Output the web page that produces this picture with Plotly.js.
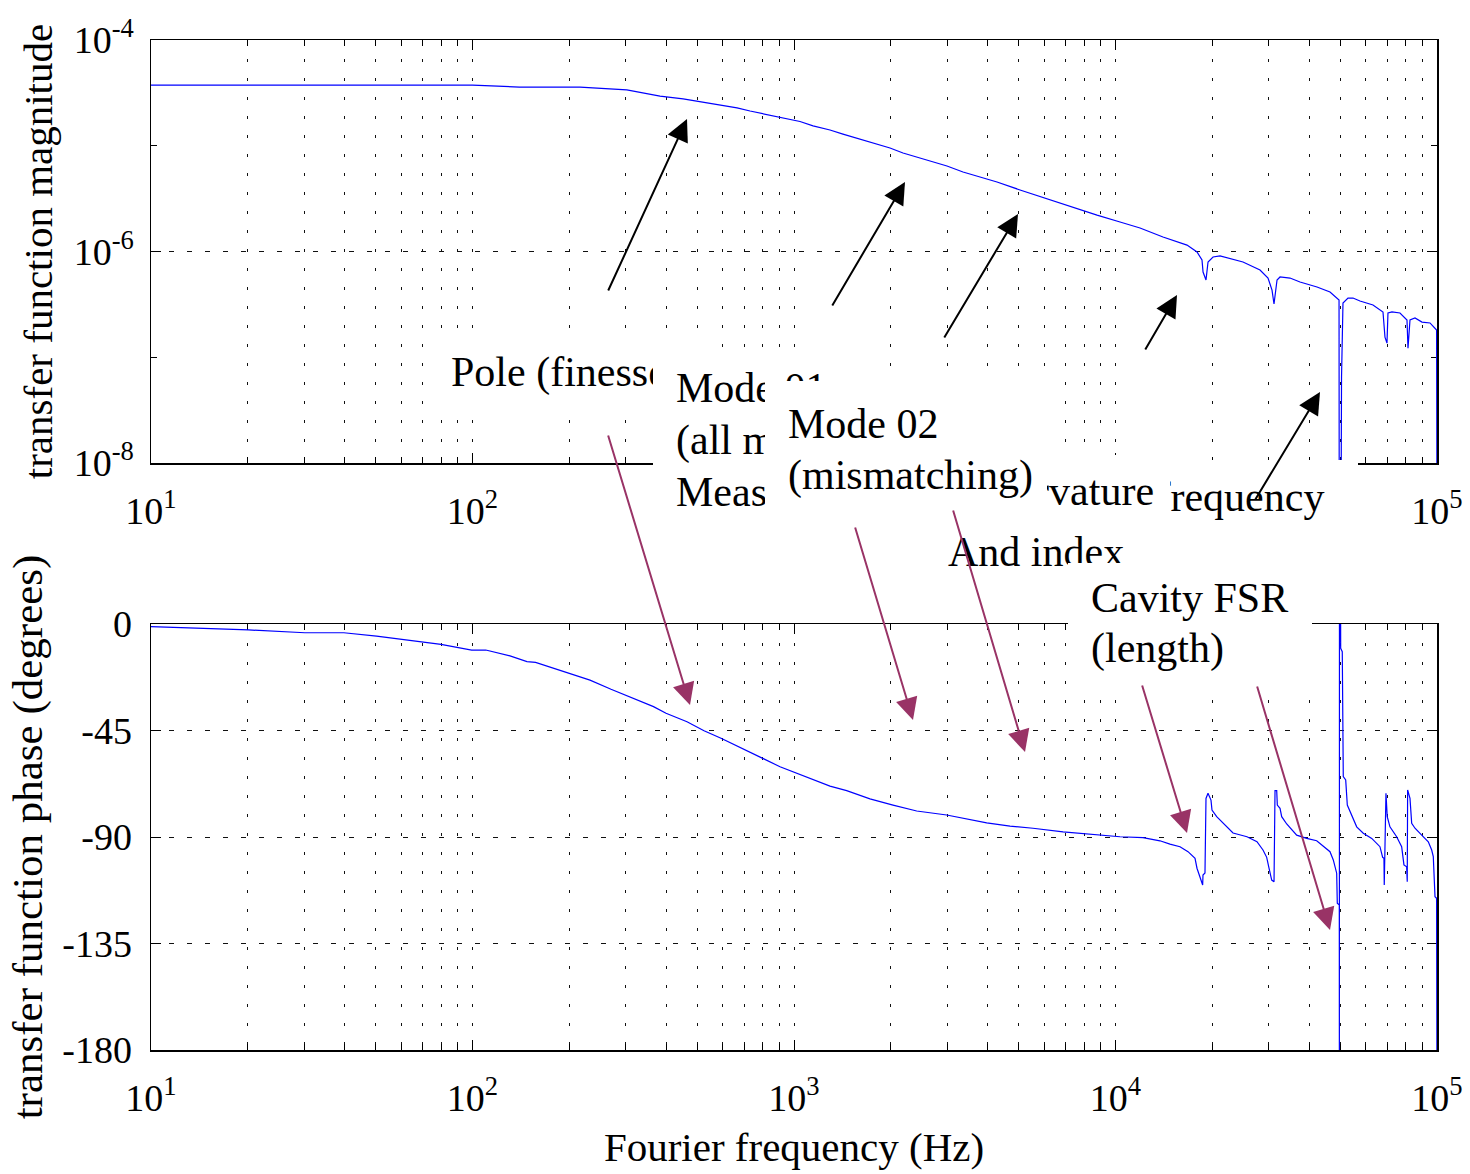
<!DOCTYPE html>
<html>
<head>
<meta charset="utf-8">
<script src="https://cdn.plot.ly/plotly-3.0.1.min.js"></script>
<style>html,body{margin:0;padding:0;background:#fff;}#chart{width:1470px;height:1174px;}</style>
</head>
<body>
<div id="chart"></div>
<script>
// ---------- data ----------
const magFreq = [10, 100, 140, 216, 302, 383, 452, 521, 589, 665, 730, 801, 885, 972, 1044, 1146, 1294, 1420, 1639, 1761, 1989, 2183, 2593, 2991, 3355, 3789, 4280, 5047, 6123, 7066, 8760, 10330, 11920, 14050, 16690, 17930, 18580, 18720, 19120, 19400, 20110, 21140, 22220, 24920, 28150, 29810, 30680, 31120, 31800, 32490, 34900, 37490, 42340, 46470, 49580, 49650, 50300, 50470, 51000, 52860, 54790, 57600, 63230, 67920, 68890, 69890, 70390, 72440, 76710, 80660, 81240, 82410, 85420, 89810, 95110, 99700, 100000];
const magValue = [3.75e-5, 3.75e-5, 3.59e-5, 3.59e-5, 3.37e-5, 2.95e-5, 2.77e-5, 2.59e-5, 2.43e-5, 2.28e-5, 2.13e-5, 2.00e-5, 1.87e-5, 1.75e-5, 1.695e-5, 1.54e-5, 1.41e-5, 1.29e-5, 1.13e-5, 1.06e-5, 9.52e-6, 8.54e-6, 7.33e-6, 6.43e-6, 5.65e-6, 5.06e-6, 4.54e-6, 3.82e-6, 3.14e-6, 2.75e-6, 2.21e-6, 1.90e-6, 1.67e-6, 1.37e-6, 1.15e-6, 9.89e-7, 8.31e-7, 6.40e-7, 5.38e-7, 7.96e-7, 8.87e-7, 9.07e-7, 8.68e-7, 7.96e-7, 6.69e-7, 5.61e-7, 4.32e-7, 3.19e-7, 5.38e-7, 5.74e-7, 5.61e-7, 5.15e-7, 4.62e-7, 4.14e-7, 3.48e-7, 3e-9, 3e-9, 6.51e-8, 3.26e-7, 3.63e-7, 3.63e-7, 3.40e-7, 3.12e-7, 2.68e-7, 1.55e-7, 1.36e-7, 2.62e-7, 2.68e-7, 2.62e-7, 2.25e-7, 1.22e-7, 2.25e-7, 2.35e-7, 2.15e-7, 2.11e-7, 1.81e-7, 3e-9];

const phFreq = [10, 20.1, 30.1, 39.8, 50.3, 59.9, 79.8, 99.4, 110, 130.8, 147.7, 157.1, 199.6, 232, 269.7, 304.6, 334.3, 365.6, 399.9, 464.7, 525, 592.9, 904.7, 1019.6, 1146, 1294, 1458, 1723, 2032, 2408, 2985, 3445, 3976, 4698, 5538, 6867, 8511, 10327, 12174, 13750, 14770, 15871, 16810, 17675, 17925, 18314, 18670, 18713, 18982, 19119, 19396, 19816, 19958, 20641, 21594, 23203, 25645, 27547, 28758, 29532, 30025, 30612, 31123, 31346, 31728, 31866, 32490, 32881, 34080, 36607, 39330, 42250, 46468, 47582, 48749, 48962, 49667, 49700, 49750, 50170, 50740, 51110, 52000, 52600, 53630, 54900, 56260, 58980, 62660, 66460, 67760, 68390, 68540, 69380, 70020, 71390, 74900, 77640, 78920, 80460, 80810, 81030, 82410, 83420, 85420, 89620, 93960, 96270, 97380, 98580, 99700, 100000];
const phDeg = [-1.1, -2.5, -3.7, -3.7, -5.1, -6.5, -8.6, -11.0, -11.0, -13.5, -15.9, -16.2, -20.8, -23.7, -27.6, -30.4, -32.8, -34.9, -37.7, -41.3, -45.1, -48.3, -60.3, -63.1, -65.5, -68.5, -70.4, -73.9, -76.5, -79.0, -80.7, -82.4, -84.0, -85.4, -86.3, -87.8, -88.9, -89.9, -90.3, -91.6, -93.0, -94.1, -96.2, -99.0, -103.2, -106.8, -110.3, -106.1, -105.2, -73.7, -71.5, -74.4, -78.6, -81.4, -84.1, -88.3, -89.9, -92.0, -95.5, -98.6, -103.2, -108.2, -108.9, -70.4, -70.4, -76.5, -77.9, -81.4, -84.5, -89.2, -90.6, -91.6, -96.2, -99.7, -105.3, -118.0, -118.7, -200, 200, -10.3, -11.7, -64.5, -65.9, -76.5, -79.3, -82.8, -85.7, -88.4, -90.6, -94.1, -98.6, -99.0, -110.3, -71.5, -81.4, -85.7, -89.9, -94.1, -101.8, -102.6, -108.9, -70.1, -73.7, -84.2, -86.3, -89.2, -92.0, -95.5, -98.3, -115.2, -115.9, -200];

const xTickVals = [10, 100, 1000, 10000, 100000];
const xTickText = ['10<sup>1</sup>', '10<sup>2</sup>', '10<sup>3</sup>', '10<sup>4</sup>', '10<sup>5</sup>'];
const magTickVals = [1e-8, 1e-6, 1e-4];
const magTickText = ['10<sup>-8</sup>', '10<sup>-6</sup>', '10<sup>-4</sup>'];
const magMinorVals = [1e-7, 1e-5];
const phTickVals = [-180, -135, -90, -45, 0];
const phTickText = ['-180', '-135', '-90', '-45', '0'];

const labelPole = ['Pole (finesse)'];
const labelMode01 = ['Mode 01', '(all misalignments)', 'Measurement'];
const labelMode02 = ['Mode 02', '(mismatching)'];
const labelCurv = ['Mirror curvature', 'And index'];
const labelFreq = ['Modulation frequency'];
const labelFSR = ['Cavity FSR', '(length)'];

// ---------- layout helpers ----------
const FONT = 'Liberation Serif, Times New Roman, serif';
const L = 151, R = 1437, T = 40, B = 1050;
const W = R - L, H = B - T;
const px = x => (x - L) / W;
const py = y => (B - y) / H;

const minorX = [];
[10, 100, 1000, 10000].forEach(d => { for (let k = 2; k <= 9; k++) minorX.push(k * d); });

const GRID = '#111';
function xAxis(anchor) {
  return {
    type: 'log', range: [1, 5], anchor: anchor, domain: [0, 1],
    tickmode: 'array', tickvals: xTickVals, ticktext: xTickText,
    ticks: 'inside', ticklen: 10, tickwidth: 1, tickcolor: 'black',
    showline: true, linecolor: 'black', linewidth: 1.5, mirror: 'ticks',
    showgrid: true, gridcolor: GRID, gridwidth: 1, griddash: '3px,16px',
    minor: { tickvals: minorX, ticks: 'inside', ticklen: 6, tickcolor: 'black', tickwidth: 1,
             showgrid: true, gridcolor: GRID, gridwidth: 1, griddash: '3px,16px' },
    tickfont: { family: FONT, size: 38, color: 'black' },
    ticklabelstandoff: 14,
    layer: 'below traces', zeroline: false
  };
}

const layout = {
  width: 1470, height: 1174,
  margin: { l: L, r: 1470 - R, t: T, b: 1174 - B, pad: 0 },
  paper_bgcolor: 'white', plot_bgcolor: 'white',
  font: { family: FONT, color: 'black', size: 38 },
  showlegend: false,
  xaxis: xAxis('y'),
  yaxis: {
    type: 'log', range: [-8, -4], anchor: 'x', domain: [py(463), 1],
    tickmode: 'array', tickvals: magTickVals, ticktext: magTickText,
    ticks: 'inside', ticklen: 10, tickwidth: 1, tickcolor: 'black',
    showline: true, linecolor: 'black', linewidth: 1.5, mirror: 'ticks',
    showgrid: true, gridcolor: GRID, gridwidth: 1, griddash: '5px,13px',
    minor: { tickvals: magMinorVals, ticks: 'inside', ticklen: 6, tickcolor: 'black', showgrid: false },
    tickfont: { family: FONT, size: 38, color: 'black' },
    ticklabelstandoff: 8,
    title: { text: 'transfer function magnitude', font: { family: FONT, size: 41, color: 'black' }, standoff: 8 },
    layer: 'below traces', zeroline: false
  },
  xaxis2: Object.assign(xAxis('y2'), {
    title: { text: 'Fourier frequency (Hz)', font: { family: FONT, size: 41, color: 'black' }, standoff: 14 }
  }),
  yaxis2: {
    range: [-180, 0], anchor: 'x2', domain: [0, py(624)],
    tickmode: 'array', tickvals: phTickVals, ticktext: phTickText,
    ticks: 'inside', ticklen: 10, tickwidth: 1, tickcolor: 'black',
    showline: true, linecolor: 'black', linewidth: 1.5, mirror: 'ticks',
    showgrid: true, gridcolor: GRID, gridwidth: 1, griddash: '5px,13px',
    tickfont: { family: FONT, size: 38, color: 'black' },
    ticklabelstandoff: 10,
    title: { text: 'transfer function phase (degrees)', font: { family: FONT, size: 43, color: 'black' }, standoff: 6 },
    layer: 'below traces', zeroline: false
  },
  annotations: []
};

function box(l, t, r, b) {
  return { xref: 'paper', yref: 'paper', x: px(l), y: py(t), xanchor: 'left', yanchor: 'top',
           width: r - l, height: b - t, text: ' ', showarrow: false, bgcolor: 'white',
           borderpad: 0, borderwidth: 0, font: { size: 2 } };
}
function line(text, x, y, anchor) {
  return { xref: 'paper', yref: 'paper', x: px(x), y: py(y), xanchor: anchor || 'left', yanchor: 'middle',
           text: text, showarrow: false, borderpad: 0, font: { family: FONT, size: 42, color: 'black' } };
}
function arrow(x0, y0, x1, y1, color) {
  return { xref: 'paper', yref: 'paper', x: px(x1), y: py(y1), ax: x0 - x1, ay: y0 - y1,
           axref: 'pixel', ayref: 'pixel', text: '', showarrow: true, arrowhead: 2, arrowsize: 2.2,
           arrowwidth: 2, arrowcolor: color, standoff: 0, startstandoff: 0, borderpad: 0, font: { size: 1 } };
}

const A = layout.annotations;
// layered text boxes (bottom to top)
A.push(box(430, 340, 700, 418));
A.push(line(labelPole[0], 450, 373));
A.push(box(653, 350, 800, 530));
A.push(line(labelMode01[0], 675, 388));
A.push(line(labelMode01[1], 675, 440));
A.push(line(labelMode01[2], 675, 492));
A.push(box(980, 460, 1358, 540));
A.push(line(labelFreq[0], 1325, 497, 'right'));
A.push(box(880, 455, 1170, 585));
A.push(line(labelCurv[0], 1155, 491, 'right'));
A.push(line(labelCurv[1], 947, 552, 'left'));
A.push(box(765, 381, 1047, 532));
A.push(line(labelMode02[0], 787, 424));
A.push(line(labelMode02[1], 787, 475));
A.push(box(1068, 563, 1312, 690));
A.push(line(labelFSR[0], 1090, 598));
A.push(line(labelFSR[1], 1090, 648));
// arrows
const BLK = 'black', PLUM = '#993366';
A.push(arrow(608, 291, 687, 119, BLK));
A.push(arrow(832, 306, 905, 182, BLK));
A.push(arrow(944, 338, 1018, 214, BLK));
A.push(arrow(1145, 350, 1177, 295, BLK));
A.push(arrow(1255, 500, 1320, 392, BLK));
A.push(arrow(608, 435, 690, 705, PLUM));
A.push(arrow(855, 527, 913, 720, PLUM));
A.push(arrow(953, 510, 1025, 752, PLUM));
A.push(arrow(1142, 685, 1187, 833, PLUM));
A.push(arrow(1257, 686, 1330, 930, PLUM));

const traces = [
  { x: magFreq, y: magValue, xaxis: 'x', yaxis: 'y', type: 'scatter', mode: 'lines',
    line: { color: '#0000ff', width: 1.2 }, hoverinfo: 'skip' },
  { x: phFreq, y: phDeg, xaxis: 'x2', yaxis: 'y2', type: 'scatter', mode: 'lines',
    line: { color: '#0000ff', width: 1.2 }, hoverinfo: 'skip' }
];

Plotly.newPlot('chart', traces, layout, { staticPlot: true, displayModeBar: false });
</script>
</body>
</html>
